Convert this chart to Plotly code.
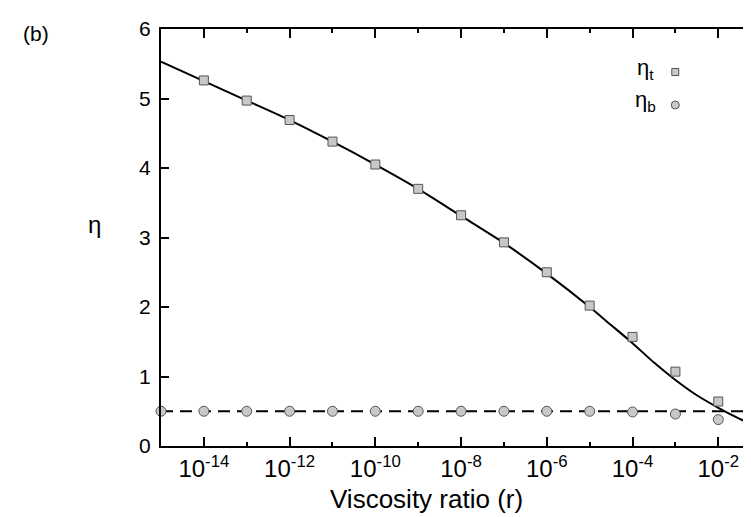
import plotly.graph_objects as go

# ---------------- data ----------------
eta_t_exp = [-14, -13, -12, -11, -10, -9, -8, -7, -6, -5, -4, -3, -2]
eta_t_val = [5.26, 4.97, 4.69, 4.38, 4.05, 3.70, 3.32, 2.93, 2.50, 2.02, 1.57, 1.07, 0.64]

eta_b_exp = [-15, -14, -13, -12, -11, -10, -9, -8, -7, -6, -5, -4, -3, -2]
eta_b_val = [0.50, 0.50, 0.50, 0.50, 0.50, 0.50, 0.50, 0.50, 0.50, 0.50, 0.50, 0.49, 0.46, 0.38]

fit_exp = [-15, -14, -13, -12, -11, -10, -9, -8, -7, -6, -5, -4.5, -4, -3.5, -3, -2.5, -2, -1.5, -1.12]
fit_val = [5.53, 5.25, 4.97, 4.69, 4.38, 4.05, 3.70, 3.31, 2.92, 2.48, 2.00, 1.74, 1.48, 1.20, 0.95, 0.73, 0.55, 0.39, 0.28]

dashed_level = 0.5
x_range_exp = [-15, -1.12]

x_tick_exp = [-14, -12, -10, -8, -6, -4, -2]
x_tick_text = ["10<sup>-14</sup>", "10<sup>-12</sup>", "10<sup>-10</sup>", "10<sup>-8</sup>",
               "10<sup>-6</sup>", "10<sup>-4</sup>", "10<sup>-2</sup>"]
x_minor_exp = [-13, -11, -9, -7, -5, -3]
y_ticks = [0, 1, 2, 3, 4, 5, 6]

# ---------------- layout geometry ----------------
W, H = 751, 517
ML, MR, MT, MB = 153, 1, 21, 79
PW, PH = W - ML - MR, H - MT - MB


def px(x):
    return (x - ML) / PW


def py(y):
    return (MT + PH - y) / PH


FONT = "Arial, Liberation Sans, sans-serif"
FILL = "#c8c8c8"
EDGE = "#555555"

fig = go.Figure()

fig.add_trace(go.Scatter(
    x=[10 ** e for e in x_range_exp], y=[dashed_level, dashed_level],
    mode="lines", line=dict(color="black", width=2, dash="12px,7px"),
    showlegend=False, hoverinfo="skip"))

fig.add_trace(go.Scatter(
    x=[10 ** e for e in fit_exp], y=fit_val, mode="lines",
    line=dict(color="black", width=2, shape="spline", smoothing=0.6),
    showlegend=False))

fig.add_trace(go.Scatter(
    x=[10 ** e for e in eta_t_exp], y=eta_t_val, mode="markers",
    marker=dict(symbol="square", size=9, color=FILL, line=dict(color=EDGE, width=1)),
    name="η_t", showlegend=False))

fig.add_trace(go.Scatter(
    x=[10 ** e for e in eta_b_exp], y=eta_b_val, mode="markers",
    marker=dict(symbol="circle", size=10, color=FILL, line=dict(color=EDGE, width=1)),
    name="η_b", showlegend=False, cliponaxis=False))

fig.update_layout(
    width=W, height=H,
    margin=dict(l=ML, r=MR, t=MT, b=MB),
    paper_bgcolor="white", plot_bgcolor="white",
    font=dict(family=FONT, color="black"),
    showlegend=False,
    xaxis=dict(
        type="log", range=x_range_exp,
        tickvals=[10 ** e for e in x_tick_exp], ticktext=x_tick_text,
        ticks="inside", ticklen=9, tickwidth=2, tickcolor="black",
        minor=dict(tickvals=[10 ** e for e in x_minor_exp], ticks="inside",
                   ticklen=4, tickwidth=2, tickcolor="black"),
        showline=True, linecolor="black", linewidth=2, mirror="ticks",
        showgrid=False, zeroline=False,
        tickfont=dict(size=24, family=FONT),
        ticklabelstandoff=0,
    ),
    yaxis=dict(
        range=[0, 6], tickvals=y_ticks,
        ticks="inside", ticklen=8, tickwidth=2, tickcolor="black",
        showline=True, linecolor="black", linewidth=2, mirror="ticks",
        showgrid=False, zeroline=False,
        tickfont=dict(size=21, family=FONT),
        ticklabelstandoff=4,
    ),
)

ann = [
    dict(text="(b)", x=px(28), y=py(25), size=21),
    dict(text="η", x=px(86), y=py(216), size=24),
    dict(text="Viscosity ratio (r)", x=px(419), y=py(491), size=26),
    dict(text="η<sub>t</sub>", x=px(639), y=py(61), size=22),
    dict(text="η<sub>b</sub>", x=px(639), y=py(93), size=22),
]
for a in ann:
    fig.add_annotation(text=a["text"], x=a["x"], y=a["y"], xref="paper", yref="paper",
                       showarrow=False, xanchor="center", yanchor="middle",
                       font=dict(size=a["size"], family=FONT, color="black"))

# legend glyphs
fig.add_shape(type="rect", xref="paper", yref="paper", xsizemode="pixel", ysizemode="pixel",
              xanchor=px(669), yanchor=py(64), x0=-3.5, x1=3.5, y0=-3.5, y1=3.5,
              fillcolor=FILL, line=dict(color=EDGE, width=1))
fig.add_shape(type="circle", xref="paper", yref="paper", xsizemode="pixel", ysizemode="pixel",
              xanchor=px(669), yanchor=py(97), x0=-4, x1=4, y0=-4, y1=4,
              fillcolor=FILL, line=dict(color=EDGE, width=1))

fig.write_html("out.html")
